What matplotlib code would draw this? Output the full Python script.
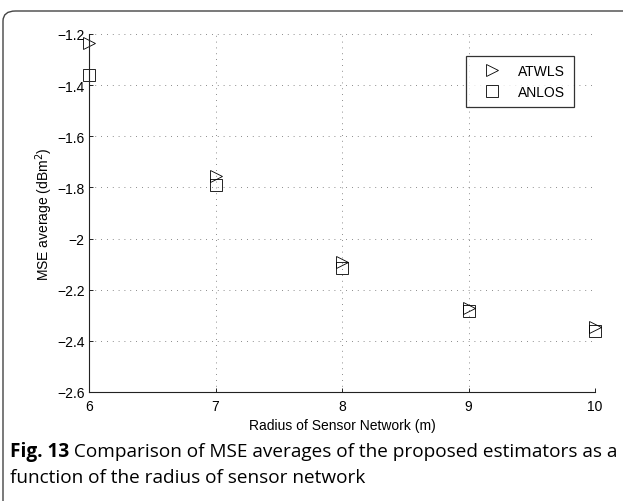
import matplotlib
matplotlib.use("Agg")
import matplotlib.pyplot as plt
from matplotlib.patches import FancyBboxPatch

# MSE averages vs. radius of the sensor network
radius = [6, 7, 8, 9, 10]
atwls = [-1.235, -1.755, -2.09, -2.27, -2.345]
anlos = [-1.36, -1.79, -2.115, -2.285, -2.36]

xticks = [6, 7, 8, 9, 10]
yticks = [-2.6, -2.4, -2.2, -2.0, -1.8, -1.6, -1.4, -1.2]
ytick_labels = ["\u22122.6", "\u22122.4", "\u22122.2", "\u22122", "\u22121.8",
                "\u22121.6", "\u22121.4", "\u22121.2"]

caption_bold = "Fig. 13"
caption_line1 = " Comparison of MSE averages of the proposed estimators as a"
caption_line2 = "function of the radius of sensor network"

plt.rcParams["font.family"] = ["Liberation Sans", "DejaVu Sans"]

W, H = 623, 502
fig = plt.figure(figsize=(W / 100, H / 100), dpi=100)

# outer frame with rounded corner, running off the right and bottom edges
frame = FancyBboxPatch((3 / W, -0.1), 1.2, (H - 12) / H + 0.1,
                       boxstyle="round,pad=0,rounding_size=0.02",
                       transform=fig.transFigure, facecolor="none",
                       edgecolor="#444444", linewidth=1.0)
fig.patches.append(frame)

ax = fig.add_axes([89 / W, 1 - 393 / H, (595 - 89) / W, (393 - 35) / H])

ax.plot(radius, atwls, linestyle="none", marker=">", markersize=9,
        markerfacecolor="none", markeredgecolor="black", markeredgewidth=0.6,
        label="ATWLS", clip_on=False)
ax.plot(radius, anlos, linestyle="none", marker="s", markersize=8,
        markerfacecolor="none", markeredgecolor="black", markeredgewidth=0.6,
        label="ANLOS", clip_on=False)

ax.set_xlim(6, 10)
ax.set_ylim(-2.6, -1.2)
ax.set_xticks(xticks)
ax.set_yticks(yticks)
ax.set_yticklabels(ytick_labels)
ax.tick_params(direction="in", length=3, width=0.6, labelsize=10)
ax.tick_params(axis="x", pad=5)
ax.tick_params(axis="y", pad=3)
ax.grid(True, linestyle=(0, (1, 6)), color="#666666", linewidth=0.6)
for side in ["top", "right"]:
    ax.spines[side].set_visible(False)
for side in ["left", "bottom"]:
    ax.spines[side].set_linewidth(0.8)
    ax.spines[side].set_color("#222222")

ax.set_xlabel("Radius of Sensor Network (m)", fontsize=10, labelpad=4)
ax.set_ylabel("MSE average (dBm$^2$)", fontsize=10)
ax.yaxis.set_label_coords(-0.067, 0.5)

leg = ax.legend(loc="upper right", bbox_to_anchor=(0.958, 0.9385),
                fontsize=10, frameon=True, fancybox=False, borderpad=0.6,
                handletextpad=0.6, labelspacing=0.45, handlelength=2.6,
                borderaxespad=0)
leg.get_frame().set_edgecolor("black")
leg.get_frame().set_linewidth(0.9)

# caption: bold label followed by regular text, sized to span the frame
cap_font = ["Open Sans", "DejaVu Sans"]
x0 = 10 / W
y1 = 1 - 452 / H
y2 = 1 - 478 / H
renderer = fig.canvas.get_renderer()
size = 13.0
t1 = fig.text(x0, y1, caption_bold, fontsize=size, fontweight="bold",
              family=cap_font, va="center", ha="left")
t2 = fig.text(0, y1, caption_line1, fontsize=size, family=cap_font,
              va="center", ha="left")
t3 = fig.text(x0, y2, caption_line2, fontsize=size, family=cap_font,
              va="center", ha="left")
width = (t1.get_window_extent(renderer).width
         + t2.get_window_extent(renderer).width)
size = size * (617 - 10) / width
for t in (t1, t2, t3):
    t.set_fontsize(size)
bb = t1.get_window_extent(renderer)
t2.set_x(bb.x1 / W)

fig.savefig("out.png", dpi=100)
